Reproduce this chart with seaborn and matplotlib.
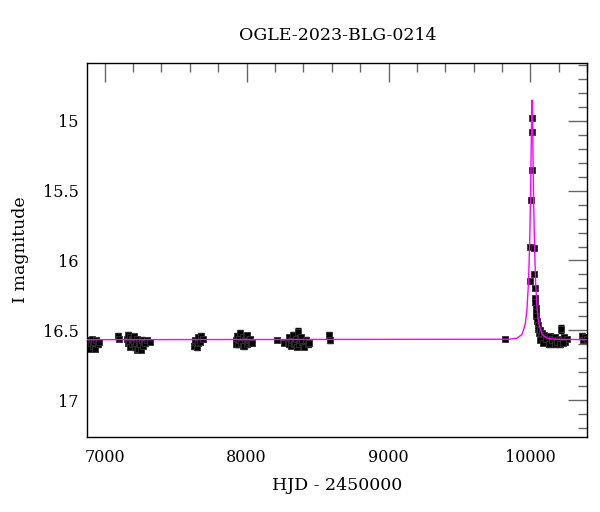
import numpy as np
import pandas as pd
import matplotlib
matplotlib.use("Agg")
import matplotlib.pyplot as plt
from matplotlib.ticker import MultipleLocator, FuncFormatter
import seaborn as sns

# OGLE photometry (HJD - 2450000, I mag, error)
hjd = [6882, 6886, 6890, 6895, 6900, 6905, 6910, 6915, 6918, 6925, 6932, 6940, 6950, 6960,
       7096, 7098,
       7160, 7165, 7168, 7175, 7180, 7182, 7190, 7195, 7198, 7205, 7210, 7212, 7220, 7225,
       7228, 7236, 7240, 7244, 7252, 7258, 7262, 7272, 7280, 7285, 7300, 7318,
       7628, 7635, 7640, 7650, 7655, 7660, 7670, 7680, 7690,
       7922, 7928, 7932, 7940, 7945, 7948, 7956, 7960, 7964, 7972, 7978, 7980, 7990, 7995,
       8000, 8006, 8012, 8020, 8025, 8032, 8040,
       8211, 8263,
       8292, 8298, 8300, 8310, 8315, 8320, 8330, 8335, 8340, 8350, 8355, 8360, 8370, 8375,
       8380, 8392, 8400, 8405, 8420, 8430, 8440,
       8583, 8588,
       9818,
       9995, 9995, 10004, 10009, 10014, 10014, 10023, 10025, 10030, 10030, 10033, 10036, 10038,
       10040, 10045, 10050, 10055, 10060, 10066, 10072, 10080, 10088, 10096, 10105, 10115,
       10125, 10135, 10145, 10155, 10165, 10175, 10185, 10195, 10205, 10214, 10225, 10235,
       10245, 10255, 10070, 10090, 10110, 10130, 10150, 10170, 10190, 10210, 10230,
       10362, 10372, 10385, 10398]
mag = [16.57, 16.60, 16.62, 16.57, 16.63, 16.59, 16.56, 16.60, 16.61, 16.58, 16.63, 16.57, 16.60, 16.58,
       16.54, 16.56,
       16.56, 16.59, 16.53, 16.58, 16.62, 16.55, 16.60, 16.56, 16.57, 16.54, 16.59, 16.62, 16.59, 16.64,
       16.56, 16.63, 16.60, 16.58, 16.60, 16.64, 16.57, 16.61, 16.58, 16.59, 16.57, 16.58,
       16.61, 16.58, 16.57, 16.62, 16.59, 16.55, 16.58, 16.54, 16.56,
       16.57, 16.60, 16.54, 16.60, 16.57, 16.56, 16.52, 16.58, 16.59, 16.55, 16.61, 16.61, 16.57, 16.55,
       16.53, 16.60, 16.58, 16.57, 16.56, 16.59, 16.59,
       16.57, 16.59,
       16.58, 16.60, 16.55, 16.61, 16.58, 16.57, 16.53, 16.60, 16.59, 16.56, 16.62, 16.51, 16.60, 16.57,
       16.55, 16.58, 16.61, 16.62, 16.57, 16.60, 16.59,
       16.53, 16.57,
       16.56,
       15.90, 16.15, 15.57, 15.08, 14.98, 15.35, 15.91, 16.10, 16.20, 16.27, 16.30, 16.34, 16.37,
       16.40, 16.43, 16.46, 16.49, 16.52, 16.50, 16.54, 16.52, 16.56, 16.53, 16.58, 16.55,
       16.57, 16.54, 16.59, 16.56, 16.58, 16.55, 16.57, 16.59, 16.56, 16.49, 16.57, 16.55,
       16.58, 16.56, 16.57, 16.59, 16.56, 16.60, 16.57, 16.60, 16.58, 16.60, 16.59,
       16.54, 16.57, 16.55, 16.56]
err = [0.015, 0.015, 0.02, 0.015, 0.02, 0.015, 0.015, 0.015, 0.02, 0.015, 0.02, 0.015, 0.02, 0.015,
       0.02, 0.015,
       0.015, 0.015, 0.02, 0.015, 0.015, 0.015, 0.02, 0.015, 0.015, 0.015, 0.015, 0.02, 0.015, 0.015,
       0.015, 0.02, 0.015, 0.015, 0.015, 0.015, 0.02, 0.015, 0.015, 0.02, 0.015, 0.015,
       0.02, 0.015, 0.015, 0.02, 0.015, 0.015, 0.015, 0.02, 0.015,
       0.015, 0.015, 0.02, 0.015, 0.015, 0.015, 0.02, 0.015, 0.015, 0.015, 0.015, 0.02, 0.015, 0.015,
       0.015, 0.015, 0.02, 0.015, 0.015, 0.015, 0.015,
       0.015, 0.015,
       0.015, 0.015, 0.02, 0.015, 0.015, 0.015, 0.02, 0.015, 0.015, 0.015, 0.015, 0.03, 0.015, 0.015,
       0.02, 0.015, 0.015, 0.015, 0.02, 0.015, 0.015,
       0.02, 0.02,
       0.01,
       0.01, 0.01, 0.01, 0.01, 0.01, 0.01, 0.01, 0.01, 0.01, 0.01, 0.01, 0.01, 0.01,
       0.01, 0.01, 0.015, 0.015, 0.015, 0.015, 0.015, 0.015, 0.015, 0.015, 0.015, 0.015,
       0.015, 0.015, 0.015, 0.015, 0.015, 0.015, 0.015, 0.015, 0.015, 0.03, 0.015, 0.015,
       0.015, 0.015, 0.015, 0.015, 0.015, 0.015, 0.015, 0.015, 0.015, 0.015, 0.015,
       0.02, 0.015, 0.015, 0.02]

# microlensing model curve
model_hjd = [6878, 9850, 9904, 9939, 9953, 9964, 9975, 9986, 9994, 10000, 10004, 10007,
             10009, 10011, 10013, 10015, 10018, 10022, 10028, 10036, 10047, 10058, 10069,
             10083, 10118, 10172, 10400]
model_mag = [16.566, 16.563, 16.556, 16.53, 16.49, 16.447, 16.35, 16.156, 15.88, 15.563,
             15.27, 15.03, 14.90, 14.853, 14.90, 15.03, 15.27, 15.563, 15.88, 16.156, 16.35,
             16.447, 16.49, 16.53, 16.556, 16.563, 16.566]

df = pd.DataFrame({"hjd": hjd, "mag": mag, "err": err})
model = pd.DataFrame({"hjd": model_hjd, "mag": model_mag})

sns.set_style("white")
plt.rcParams["font.family"] = ["DejaVu Serif"]
plt.rcParams.update({"text.color": "black", "axes.labelcolor": "black",
                     "xtick.color": "black", "ytick.color": "black"})

fig = plt.figure(figsize=(6.0, 5.12), dpi=100)
ax = fig.add_axes([0.1455, 0.147, 0.8333, 0.7305])

ax.errorbar(df["hjd"], df["mag"], yerr=df["err"], fmt="none", ecolor="black",
            elinewidth=1.0, capsize=2, capthick=1.0, zorder=2)
sns.scatterplot(data=df, x="hjd", y="mag", marker="s", s=18, color="black",
                edgecolor="#333333", linewidth=0.6, ax=ax, zorder=2)
sns.lineplot(data=model, x="hjd", y="mag", color="#ff00ff", linewidth=1.0,
             sort=False, ax=ax, zorder=3)

ax.set_xlim(6878, 10400)
ax.set_ylim(17.26, 14.586)

ax.xaxis.set_major_locator(MultipleLocator(1000))
ax.xaxis.set_minor_locator(MultipleLocator(200))
ax.yaxis.set_major_locator(MultipleLocator(0.5))
ax.yaxis.set_minor_locator(MultipleLocator(0.1))
ax.yaxis.set_major_formatter(FuncFormatter(lambda v, _: f"{v:g}"))

ax.tick_params(which="both", direction="in", top=True, right=True,
               color="#666666", labelcolor="black", width=1.0, labelsize=11.5)
ax.tick_params(which="major", length=13.5)
ax.tick_params(which="minor", length=6.5)
ax.tick_params(axis="x", which="major", pad=9)
ax.tick_params(axis="y", which="major", pad=6)
for s in ax.spines.values():
    s.set_color("black")
    s.set_linewidth(1.0)

ax.set_xlabel("HJD - 2450000", fontsize=12.5, labelpad=8, color="black")
ax.set_ylabel("I magnitude", fontsize=12.5, labelpad=10, color="black")
ax.set_title("OGLE-2023-BLG-0214", fontsize=12.5, pad=16, color="black")

plt.savefig("out.png", dpi=100)
